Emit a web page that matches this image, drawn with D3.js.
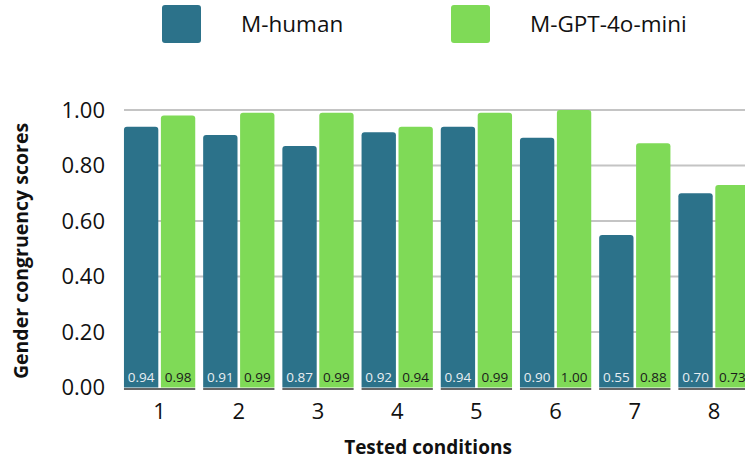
<!DOCTYPE html>
<html><head><meta charset="utf-8">
<script src="https://cdn.jsdelivr.net/npm/d3@7"></script>
<style>body{margin:0;background:#fff}svg{display:block;font-family:"Open Sans","Noto Sans",sans-serif}</style>
</head><body><svg id="c" width="745" height="460"></svg>
<script>
const categories = ["1","2","3","4","5","6","7","8"];
const seriesNames = ["M-human","M-GPT-4o-mini"];
const human = [0.94,0.91,0.87,0.92,0.94,0.90,0.55,0.70];
const gpt = [0.98,0.99,0.99,0.94,0.99,1.00,0.88,0.73];
const yTicks = [0,0.2,0.4,0.6,0.8,1.0];
const colors = ["#2c728a","#7fda57"];

const svg = d3.select("#c");
const x = d3.scaleBand().domain(categories).range([120, 753.6]).paddingInner(0.1).paddingOuter(0.05);
const x1 = d3.scaleBand().domain(seriesNames).range([0, x.bandwidth()]).paddingInner(0.07);
const y = d3.scaleLinear().domain([0,1]).range([387.5,110]);

// gridlines
svg.append("g").selectAll("line").data(yTicks.filter(d=>d>0)).join("line")
  .attr("x1",124).attr("x2",745).attr("y1",d=>y(d)).attr("y2",d=>y(d))
  .attr("stroke","#c4c4c4").attr("stroke-width",2);

// y tick labels
svg.append("g").selectAll("text").data(yTicks).join("text")
  .attr("x",105).attr("y",d=>y(d)).attr("dy","0.36em").attr("text-anchor","end")
  .attr("font-size",22).attr("fill","#111").text(d=>d.toFixed(2));

const data = categories.map((c,i)=>({c, vals:[human[i],gpt[i]]}));
const g = svg.append("g").selectAll("g").data(data).join("g")
  .attr("transform",d=>`translate(${x(d.c)},0)`);

g.append("line").attr("x1",0).attr("x2",x.bandwidth()).attr("y1",y(0)+1.5).attr("y2",y(0)+1.5)
  .attr("stroke","#666").attr("stroke-width",2);

const b = g.selectAll("g.b").data(d=>d.vals.map((v,j)=>({v,s:seriesNames[j],j}))).join("g").attr("class","b");
b.append("path").attr("fill",d=>colors[d.j])
  .attr("d",d=>{
    const x0=x1(d.s), w=x1.bandwidth(), y0=y(d.v), yb=y(0), r=3;
    return `M${x0},${yb}V${y0+r}Q${x0},${y0} ${x0+r},${y0}H${x0+w-r}Q${x0+w},${y0} ${x0+w},${y0+r}V${yb}Z`;
  });
b.append("text").attr("x",d=>x1(d.s)+x1.bandwidth()/2).attr("y",382)
  .attr("text-anchor","middle").attr("font-size",13.5)
  .attr("fill",d=>d.j===0?"#e8eef2":"#1a1a1a").text(d=>d.v.toFixed(2));

// x tick labels
svg.append("g").selectAll("text").data(categories).join("text")
  .attr("x",d=>x(d)+x.bandwidth()/2).attr("y",419).attr("text-anchor","middle")
  .attr("font-size",22).attr("fill","#111").text(d=>d);

// axis titles
svg.append("text").attr("x",428).attr("y",454).attr("text-anchor","middle")
  .attr("font-size",19).attr("font-weight","bold").attr("fill","#111").text("Tested conditions");
svg.append("text").attr("transform","translate(28,251) rotate(-90)").attr("text-anchor","middle")
  .attr("font-size",19.5).attr("font-weight","bold").attr("fill","#111").text("Gender congruency scores");

// legend
const legX = [162,451];
const lg = svg.append("g").selectAll("g").data(seriesNames).join("g")
  .attr("transform",(d,i)=>`translate(${legX[i]},5)`);
lg.append("rect").attr("width",39).attr("height",38).attr("rx",3).attr("fill",(d,i)=>colors[i]);
lg.append("text").attr("x",79).attr("y",19).attr("dy","0.36em").attr("font-size",22.5).attr("fill","#111").text(d=>d);
</script></body></html>
